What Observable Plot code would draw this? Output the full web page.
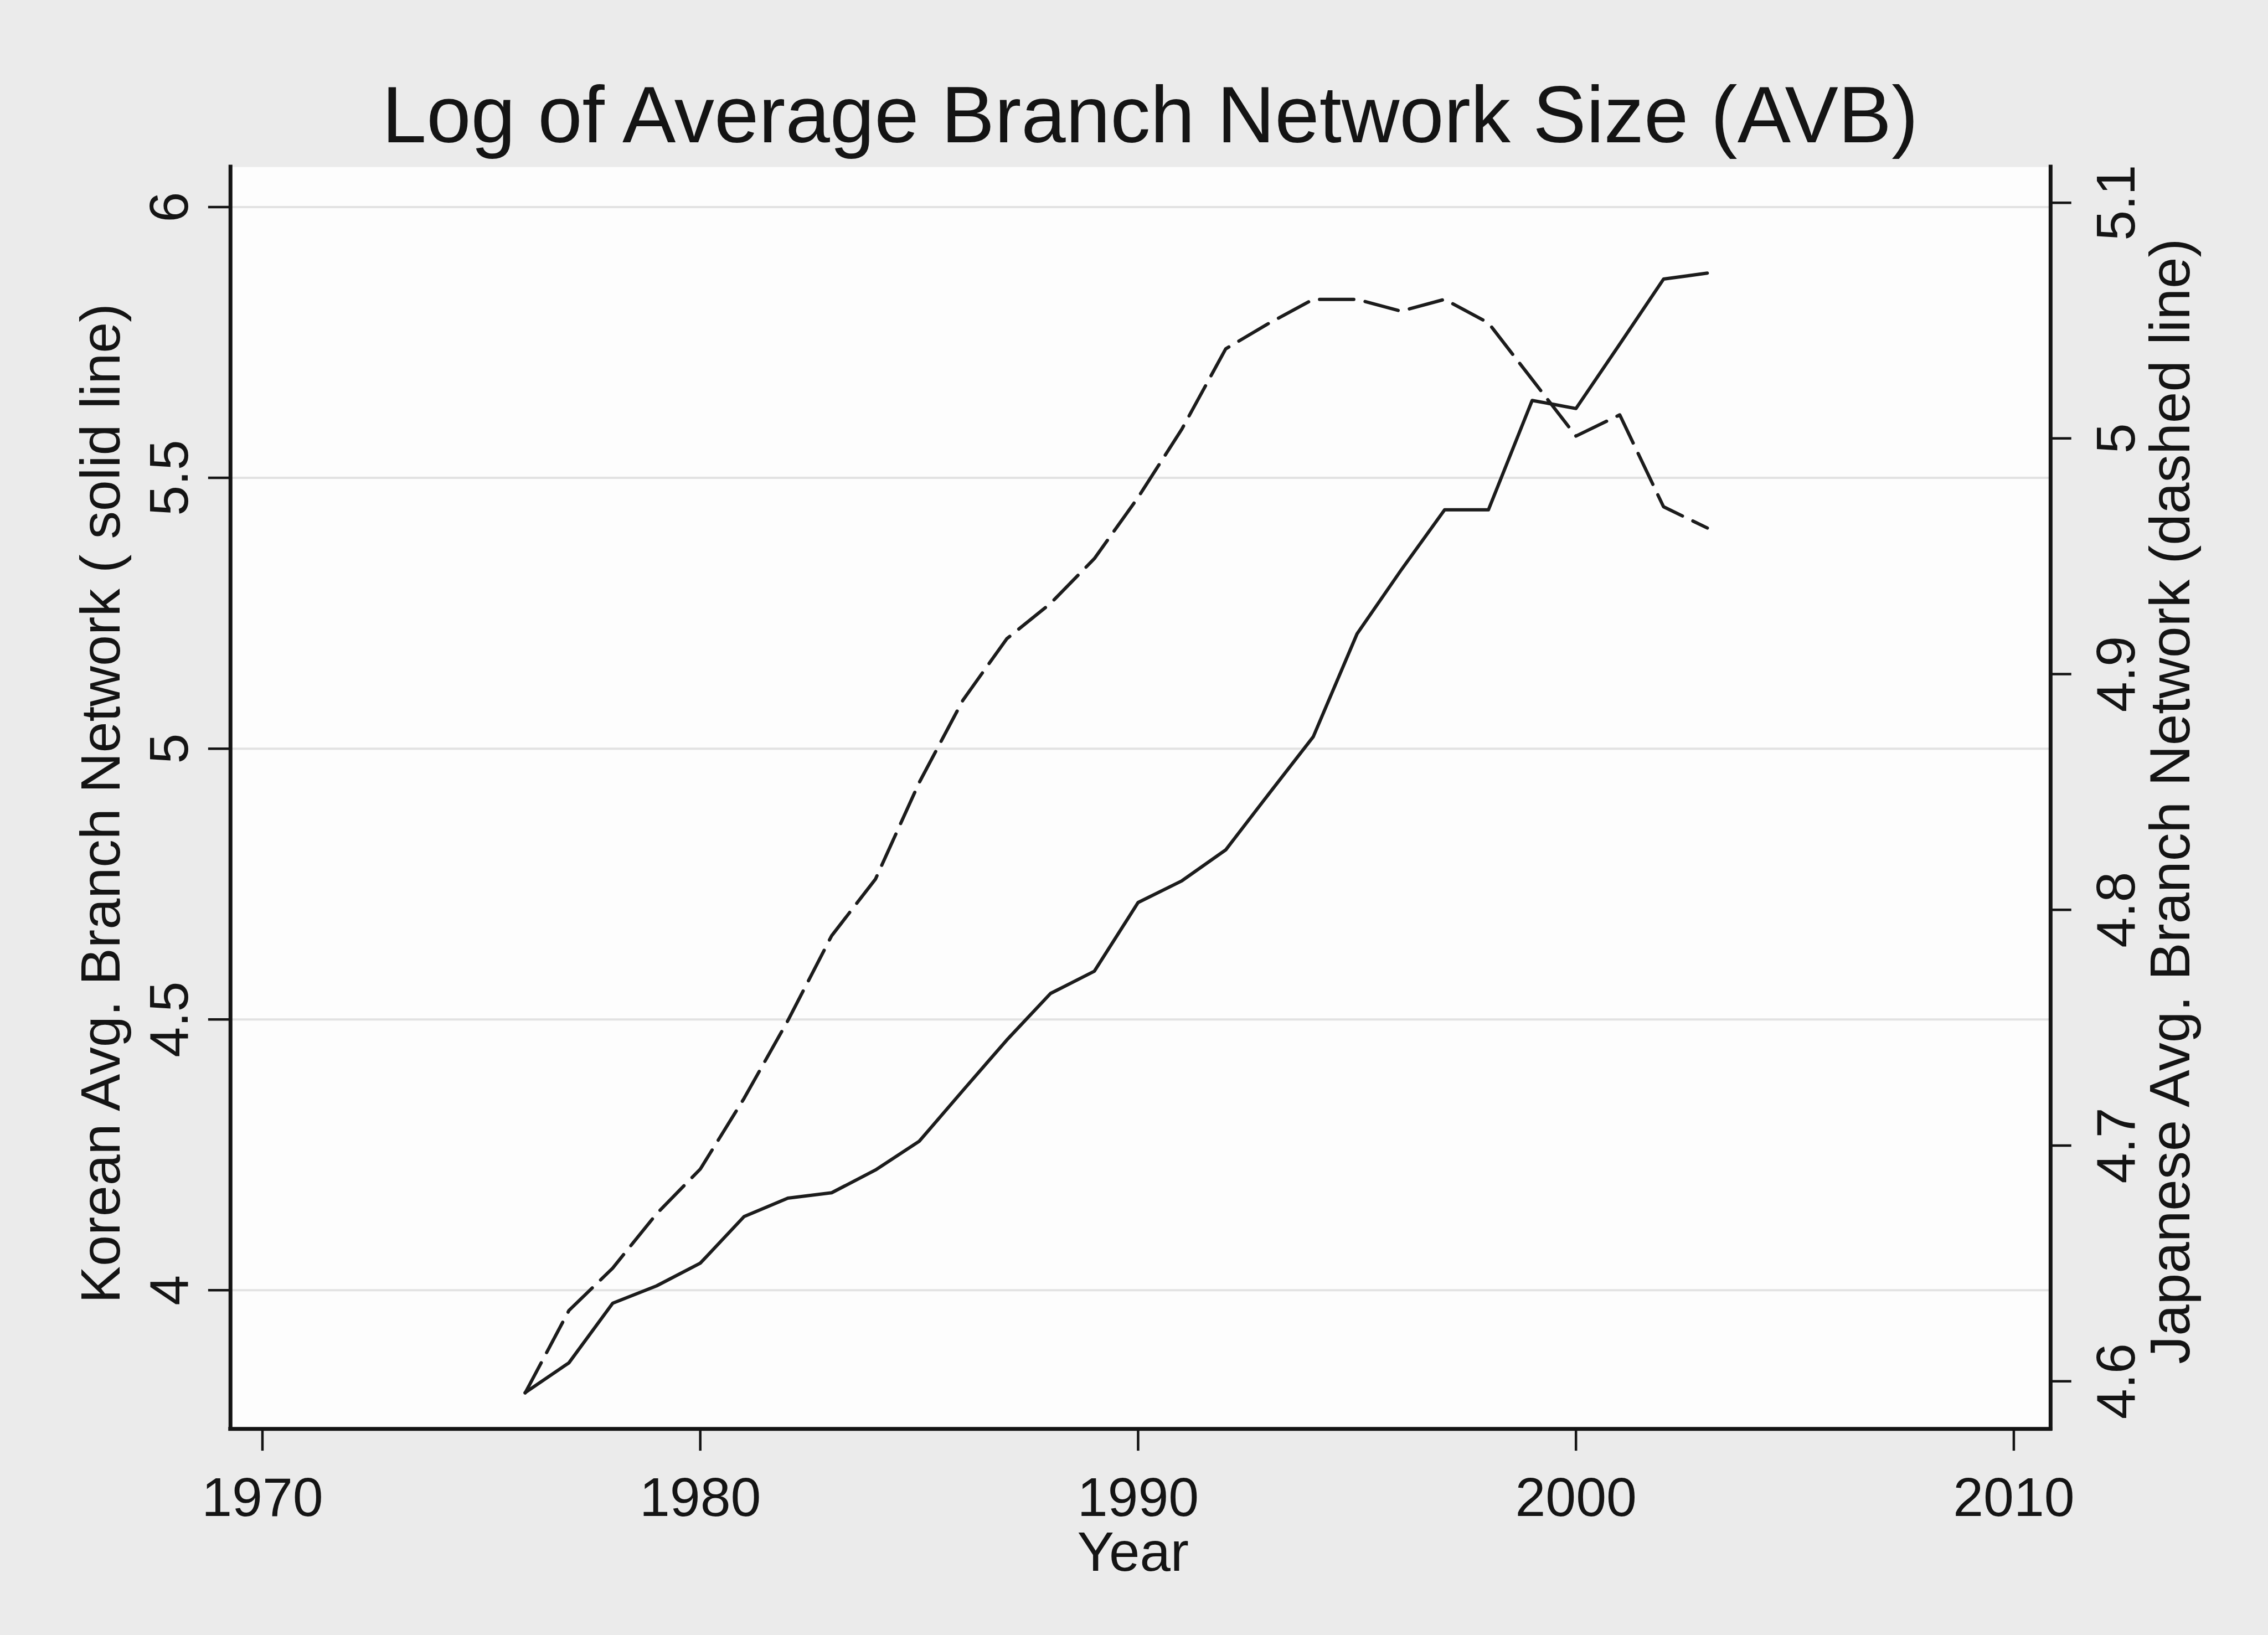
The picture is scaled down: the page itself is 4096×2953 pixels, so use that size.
<!DOCTYPE html>
<html>
<head>
<meta charset="utf-8">
<script src="https://cdn.jsdelivr.net/npm/d3@7"></script>
<script src="https://cdn.jsdelivr.net/npm/@observablehq/plot@0.6"></script>
<style>
html, body { margin: 0; padding: 0; background: #ebebeb; }
#chart { position: absolute; left: 0; top: 0; width: 4096px; height: 2953px; }
</style>
</head>
<body>
<div id="chart"></div>
<script>
// ---- data ----
const years = [1976,1977,1978,1979,1980,1981,1982,1983,1984,1985,1986,1987,1988,1989,1990,
               1991,1992,1993,1994,1995,1996,1997,1998,1999,2000,2001,2002,2003];
const koreaAVB = [3.811,3.866,3.976,4.008,4.050,4.136,4.170,4.180,4.222,4.275,4.369,4.462,4.548,4.589,4.716,
                  4.756,4.813,4.918,5.022,5.212,5.329,5.441,5.441,5.643,5.628,5.747,5.867,5.878];
const japanAVB = [4.595,4.630,4.648,4.671,4.690,4.720,4.753,4.789,4.813,4.854,4.889,4.915,4.930,4.949,4.975,
                  5.004,5.038,5.049,5.059,5.059,5.054,5.059,5.049,5.025,5.001,5.010,4.971,4.962];
const xTicks = [1970, 1980, 1990, 2000, 2010];
const leftTicks = [4, 4.5, 5, 5.5, 6];
const rightTicks = [4.6, 4.7, 4.8, 4.9, 5, 5.1];
const titleText = "Log of Average Branch Network Size (AVB)";
const xLabel = "Year";
const leftLabel = "Korean Avg. Branch Network ( solid line)";
const rightLabel = "Japanese Avg. Branch Network (dashed line)";

// axis extents
const xDomain = [1969.27, 2010.84];
const yDomain = [3.744, 6.074];
// right (Japanese) axis aligned onto the left axis: 4.6 -> 3.832, 5.1 -> 6.008
const toLeft = d3.scaleLinear().domain([4.6, 5.1]).range([3.832, 6.008]);

const data = years.map((year, i) => ({year, korea: koreaAVB[i], japan: japanAVB[i]}));

const S = 0.997;
const W = 4096, H = 2953;
const fL = 417 * S, fR = 3714 * S, fT = 302 * S, fB = 2588 * S;
const ink = "#141414";
const fmt = d3.format("~g");

const chart = Plot.plot({
  width: W,
  height: H,
  marginLeft: fL,
  marginRight: W - fR,
  marginTop: fT,
  marginBottom: H - fB,
  style: {background: "transparent", fontFamily: "'Liberation Sans', Arial, sans-serif", color: ink},
  x: {domain: xDomain},
  y: {domain: yDomain},
  marks: [
    Plot.frame({fill: "#fdfdfd", stroke: null}),
    Plot.gridY(leftTicks, {stroke: "#e2e2e2", strokeOpacity: 1, strokeWidth: 4}),
    Plot.line(data, {x: "year", y: "korea", stroke: "#1c1c1c", strokeWidth: 6, strokeLinejoin: "round"}),
    Plot.line(data, {x: "year", y: d => toLeft(d.japan), stroke: "#1c1c1c", strokeWidth: 6,
                     strokeDasharray: `${62 * S},${21 * S}`}),
    // axis lines (no top border)
    Plot.ruleX([xDomain[0]], {stroke: ink, strokeWidth: 7, strokeLinecap: "square"}),
    Plot.ruleX([xDomain[1]], {stroke: ink, strokeWidth: 7, strokeLinecap: "square"}),
    Plot.ruleY([yDomain[0]], {stroke: ink, strokeWidth: 7, strokeLinecap: "square"}),
    // axes
    Plot.axisX(xTicks, {anchor: "bottom", tickSize: 40 * S, tickPadding: 46.8, fontSize: 99 * S,
                        stroke: ink, strokeWidth: 4.5, label: null, tickFormat: d => String(d)}),
    Plot.axisY(leftTicks, {anchor: "left", tickSize: 40 * S, tickPadding: 37.7, tickRotate: -90,
                           textAnchor: "middle", lineAnchor: "bottom", fontSize: 99 * S,
                           stroke: ink, strokeWidth: 4.5, label: null, tickFormat: d => fmt(d)}),
    Plot.axisY(rightTicks.map(t => toLeft(t)), {anchor: "right", tickSize: 37 * S, tickPadding: 114.5, tickRotate: -90,
                           textAnchor: "middle", lineAnchor: "bottom", fontSize: 99 * S,
                           stroke: ink, strokeWidth: 4.5, label: null,
                           tickFormat: d => fmt(Math.round(toLeft.invert(d) * 10) / 10)}),
    // titles
    Plot.text([titleText], {text: d => d, frameAnchor: "top", dx: 17.3, dy: 256.2 - fT,
                            lineAnchor: "bottom", textAnchor: "middle", fontSize: 145 * S, fill: ink}),
    Plot.text([xLabel], {text: d => d, frameAnchor: "bottom", dx: -13.5, dy: 2845 * S - fB,
                         lineAnchor: "bottom", textAnchor: "middle", fontSize: 100 * S, fill: ink}),
    Plot.text([leftLabel], {text: d => d, frameAnchor: "left", rotate: -90, dx: 216 * S - fL, dy: 10,
                            lineAnchor: "bottom", textAnchor: "middle", fontSize: 101 * S, fill: ink}),
    Plot.text([rightLabel], {text: d => d, frameAnchor: "right", rotate: -90, dx: 3965 * S - fR, dy: 6,
                             lineAnchor: "bottom", textAnchor: "middle", fontSize: 102 * S, fill: ink})
  ]
});
document.getElementById("chart").appendChild(chart);
</script>
</body>
</html>
